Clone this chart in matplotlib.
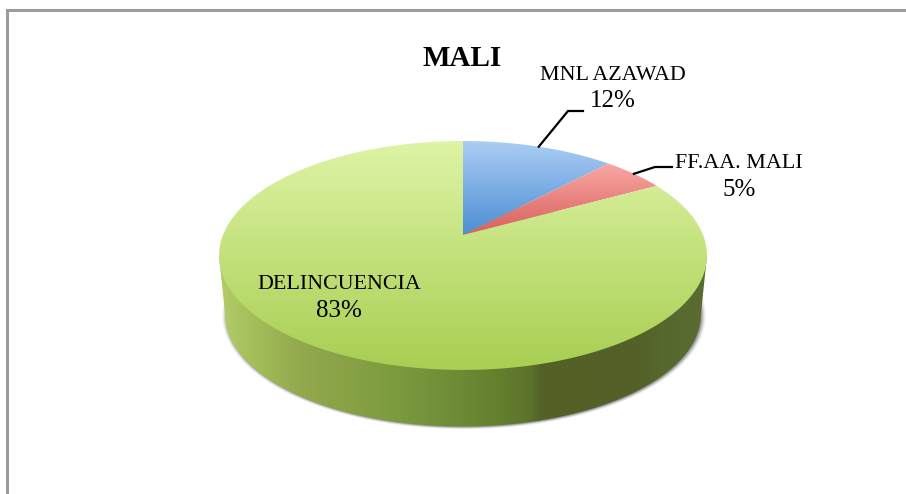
import numpy as np
import matplotlib
matplotlib.use('Agg')
import matplotlib.pyplot as plt
from matplotlib.patches import Polygon

labels = ['MNL AZAWAD', 'FF.AA. MALI', 'DELINCUENCIA']
shares = [12, 5, 83]
title = 'MALI'

# top / bottom colours of each slice
top_cols = ['#abcdf5', '#f8a8a4', '#def4a6']
bot_cols = ['#4c8ed2', '#d95f5b', '#a8ce52']

# pie geometry, in pixels of the picture
cx, cy = 463, 235
A, B, k = 240, 110.8, 0.179
dy, s = 60, 0.975


def project(theta, scale=1.0, shift=0.0, xshift=0.0):
    u = np.sin(theta)
    v = np.cos(theta)
    w = 1 + k * v
    return cx + xshift + scale * A * u / w, cy + shift - scale * B * v / w


def hexrgb(c):
    return np.array(matplotlib.colors.to_rgb(c))


fig = plt.figure(figsize=(9.06, 4.94), dpi=100)
ax = fig.add_axes([0, 0, 1, 1])
ax.set_xlim(0, 906)
ax.set_ylim(494, 0)
ax.axis('off')

# frame, only top and left are visible
ax.plot([7, 7, 906], [494, 10, 10], color='#9c9c9c', lw=2.2, solid_joinstyle='miter')

th = np.linspace(0, 2 * np.pi, 721)

# soft shadow below the body
for grow, a in [(0.016, 0.06), (0.012, 0.09), (0.008, 0.13), (0.004, 0.18), (0.001, 0.22)]:
    x, y = project(th, scale=s + grow, shift=dy + 0.5, xshift=1.0)
    ax.add_patch(Polygon(np.c_[x, y], closed=True, fc='#4a4a4a', ec='none', alpha=a))

# side of the pie
xb, yb = project(th, scale=s, shift=dy)
xt, yt = project(th)
left_b, right_b = np.argmin(xb), np.argmax(xb)
left_t, right_t = np.argmin(xt), np.argmax(xt)
lo = np.arange(right_b, left_b + 1)
side = np.vstack([[xt[right_t], yt[right_t]], np.c_[xb[lo], yb[lo]], [xt[left_t], yt[left_t]]])
stops_x = [219, 250, 300, 340, 400, 450, 500, 530, 540, 640, 680, 707]
stops_c = ['#b2cd6a', '#a5c05a', '#92a94e', '#8aa347', '#7a9a3e', '#6f8d38', '#647f2e', '#5c722a',
           '#536127', '#546229', '#586a30', '#5a6c32']
stops_rgb = np.array([hexrgb(c) for c in stops_c])
cols = np.arange(219, 708)
grad = np.stack([np.interp(cols, stops_x, stops_rgb[:, i]) for i in range(3)], axis=-1)[None, :, :]
im = ax.imshow(grad, extent=[219, 708, 440, 240], aspect='auto', zorder=2)
im.set_clip_path(Polygon(side, closed=True, transform=ax.transData))

# top face, one gradient filled wedge per share
fracs = np.cumsum([0] + shares) / sum(shares)
for i in range(len(shares)):
    t = np.linspace(fracs[i], fracs[i + 1], 300) * 2 * np.pi
    x, y = project(t)
    x = np.r_[cx, x]
    y = np.r_[cy, y]
    y0, y1 = y.min(), y.max()
    f = np.linspace(0, 1, 256)[:, None, None]
    g = (1 - f) * hexrgb(top_cols[i]) + f * hexrgb(bot_cols[i])
    im = ax.imshow(g, extent=[x.min(), x.max(), y1, y0], aspect='auto', zorder=3)
    im.set_clip_path(Polygon(np.c_[x, y], closed=True, transform=ax.transData))
ax.set_xlim(0, 906)
ax.set_ylim(494, 0)

# leader lines from the middle of the two small slices
mid = (fracs[:-1] + fracs[1:]) / 2 * 2 * np.pi
lead = [((568, 111), (583, 111)), ((655, 167), (672, 167))]
for i in range(2):
    xa, ya = project(mid[i])
    ax.plot([xa, lead[i][0][0], lead[i][1][0]], [ya, lead[i][0][1], lead[i][1][1]],
            color='black', lw=1.6, zorder=4, solid_joinstyle='miter')

font = 'Liberation Serif'
pos = [(613, 75, 101), (739, 163, 190), (339, 284, 311)]
for i in range(3):
    ax.text(pos[i][0], pos[i][1], labels[i], ha='center', va='center', family=font,
            fontsize=15.8, color='black', zorder=5)
    ax.text(pos[i][0], pos[i][2], '%d%%' % shares[i], ha='center', va='center', family=font,
            fontsize=18, color='black', zorder=5)
ax.text(462, 58, title, ha='center', va='center', family=font, fontsize=21, weight='bold', zorder=5)

fig.savefig('out.png', dpi=100)
